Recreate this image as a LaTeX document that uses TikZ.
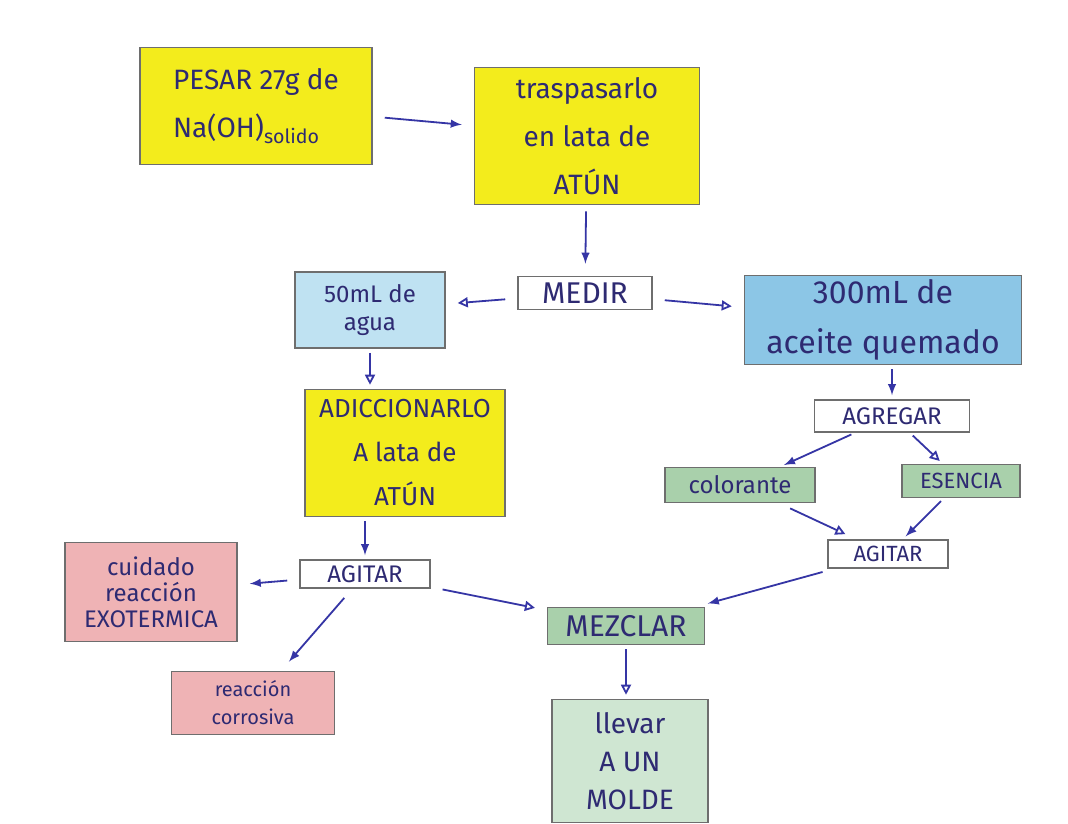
\documentclass[tikz,border=0pt]{standalone}
\usepackage{fontspec}
\setmainfont{Fira Sans}
\usetikzlibrary{positioning,arrows.meta}
\definecolor{ink}{HTML}{2E2A72}
\definecolor{arrowblue}{HTML}{3535A5}
\definecolor{edge}{HTML}{6E6E6E}
\definecolor{yellowbox}{HTML}{F3EC1C}
\definecolor{waterbox}{HTML}{BFE2F2}
\definecolor{oilbox}{HTML}{8CC6E6}
\definecolor{pinkbox}{HTML}{EFB3B5}
\definecolor{greenbox}{HTML}{A9D0AB}
\definecolor{moldbox}{HTML}{CFE6D2}
\begin{document}
\begin{tikzpicture}[
            x=0.5pt, y=-0.5pt,
            >=latex,
            box/.style={draw=edge, line width=0.8pt, inner sep=2pt, align=center,
                text=ink, font=\fontsize{14}{24}\selectfont},
            flow/.style={->, draw=arrowblue, line width=0.9pt, shorten >=6pt, shorten <=6pt},
            flowo/.style={flow, -{Triangle[open, length=5pt, width=5pt]}},
            short/.style={shorten >=2pt, shorten <=2pt}
            ]

            \fill[white] (0,0) rectangle (1068,823);

            % left column
            \node [box, fill=yellowbox, minimum width=116pt, minimum height=58.5pt, align=left] (pesar) at (256,106) {PESAR 27g de\\Na(OH)\textsubscript{solido}};
            \node [box, fill=yellowbox, minimum width=112.5pt, minimum height=68.5pt] (traspasar) at (587,136) {traspasarlo\\en lata de\\ATÚN};
            \node [box, fill=white, minimum width=67pt, minimum height=16.5pt, font=\fontsize{15}{18}\selectfont] (medir) at (585,293) {MEDIR};
            \node [box, fill=waterbox, minimum width=75pt, minimum height=38pt, font=\fontsize{12}{14}\selectfont] (agua) at (370,310) {50mL de\\agua};
            \node [box, fill=yellowbox, minimum width=100pt, minimum height=63.5pt, font=\fontsize{13}{22}\selectfont] (adic) at (405,453) {ADICCIONARLO\\A lata de\\ATÚN};
            \node [box, fill=white, minimum width=65pt, minimum height=14pt, font=\fontsize{12}{14}\selectfont] (agitarA) at (365,574) {AGITAR};
            \node [box, fill=pinkbox, minimum width=86pt, minimum height=49.5pt, font=\fontsize{12}{13}\selectfont] (cuidado) at (151,592) {cuidado\\reacción\\EXOTERMICA};
            \node [box, fill=pinkbox, minimum width=81.5pt, minimum height=31.5pt, font=\fontsize{10}{14}\selectfont] (corrosiva) at (253,703) {reacción\\corrosiva};
            \node [box, fill=greenbox, minimum width=78.5pt, minimum height=18.5pt, font=\fontsize{15}{18}\selectfont] (mezclar) at (626,626) {MEZCLAR};
            \node [box, fill=moldbox, minimum width=78pt, minimum height=61.5pt, font=\fontsize{14}{19}\selectfont] (llevar) at (630,761) {llevar\\A UN\\MOLDE};

            % right column
            \node [box, fill=oilbox, minimum width=138.5pt, minimum height=40pt, font=\fontsize{16}{25}\selectfont] (aceite) at (883,320) {300mL de\\aceite quemado};
            \node [box, fill=white, minimum width=77.5pt, minimum height=16pt, font=\fontsize{12}{14}\selectfont] (agregar) at (892,416) {AGREGAR};
            \node [box, fill=greenbox, minimum width=75pt, minimum height=17.5pt, font=\fontsize{12}{14}\selectfont] (colorante) at (740,485) {colorante};
            \node [box, fill=greenbox, minimum width=59pt, minimum height=16.5pt, font=\fontsize{11}{14}\selectfont] (esencia) at (961,481) {ESENCIA};
            \node [box, fill=white, minimum width=60pt, minimum height=14pt, font=\fontsize{11}{14}\selectfont] (agitarB) at (888,554) {AGITAR};

            \draw[flow] (pesar) -- (traspasar);
            \draw[flow, shorten <=3pt] (traspasar) -- (medir);
            \draw[flowo] (medir) -- (agua);
            \draw[flowo] (medir) -- (aceite);
            \draw[flowo, short] (agua.south) -- (agua.south |- adic.north);
            \draw[flow, short] (agitarA.north |- adic.south) -- (agitarA.north);
            \draw[flow] (agitarA) -- (cuidado);
            \draw[flow] (agitarA) -- (corrosiva);
            \draw[flowo] (agitarA) -- (mezclar);
            \draw[flowo, short] (mezclar) -- (mezclar |- llevar.north);
            \draw[flow, short] (aceite.south -| agregar) -- (agregar);
            \draw[flow, short] (agregar) -- (colorante);
            \draw[flowo, short] (agregar) -- (esencia);
            \draw[flowo] (colorante) -- (agitarB);
            \draw[flow, short] (esencia) -- (agitarB);
            \draw[flow] (agitarB) -- (mezclar);
        \end{tikzpicture}
\end{document}
